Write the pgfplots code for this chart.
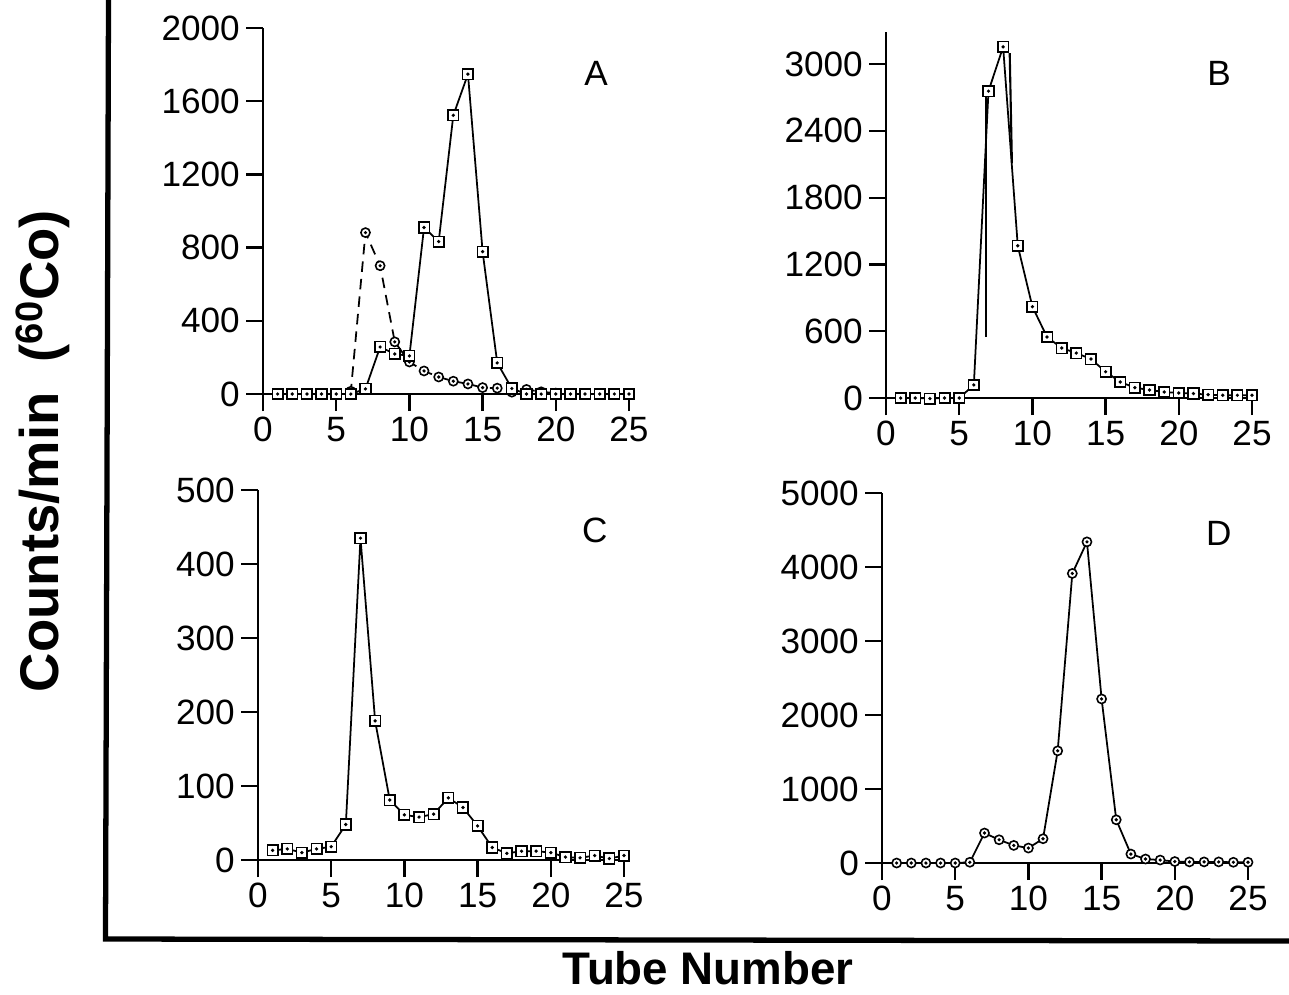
\documentclass[border=0pt]{standalone}
\usepackage{fontspec}
\setmainfont{Liberation Sans}
\usepackage{pgfplots}
\pgfplotsset{compat=1.18}

% open marks with a dot in the middle, as on the old plotter
\pgfdeclareplotmark{sqdot}{%
  \pgfpathrectangle{\pgfpoint{-\pgfplotmarksize}{-\pgfplotmarksize}}{\pgfpoint{2\pgfplotmarksize}{2\pgfplotmarksize}}%
  \pgfusepathqfillstroke
  \begin{pgfscope}\pgfsetfillcolor{black}%
  \pgfpathcircle{\pgfpointorigin}{0.35\pgfplotmarksize}\pgfusepathqfill\end{pgfscope}}
\pgfdeclareplotmark{cirdot}{%
  \pgfpathcircle{\pgfpointorigin}{\pgfplotmarksize}%
  \pgfusepathqfillstroke
  \begin{pgfscope}\pgfsetfillcolor{black}%
  \pgfpathcircle{\pgfpointorigin}{0.4\pgfplotmarksize}\pgfusepathqfill\end{pgfscope}}

\pgfplotsset{
  panel/.style={
    scale only axis,
    width=7.32cm,
    xmin=0, xmax=25, ymin=0,
    xtick={0,5,...,25},
    axis x line=bottom, axis y line=left,
    axis line style={-, line width=1.3pt},
    x axis line style={shorten <=-0.34cm},
    y axis line style={shorten <=-0.34cm},
    tick align=outside,
    major tick length=0.34cm,
    every tick/.style={black, line width=1.3pt},
    tick label style={font=\fontsize{20}{24}\selectfont},
    /pgf/number format/assume math mode=true,
    /pgf/number format/1000 sep={},
    scaled y ticks=false,
    clip=false,
  },
  sq/.style={black, line width=1pt, mark=sqdot, mark size=3pt, mark options={solid, fill=white, line width=0.9pt}},
  ci/.style={black, line width=1pt, mark=cirdot, mark size=2.6pt, mark options={solid, fill=white, line width=0.9pt}},
}

\begin{document}
\begin{tikzpicture}
\useasboundingbox (0,0) rectangle (25.78,-19.88);

% panel A
\begin{axis}[panel, at={(5.26cm,-7.88cm)}, anchor=south west, height=7.32cm,
  ymax=2000, ytick={0,400,...,2000}]
\addplot[ci, dashed, dash pattern=on 6pt off 4pt] coordinates {
  (1,0)(2,0)(3,0)(4,0)(5,0)(6,15)(7,882)(8,701)(9,285)(10,175)
  (11,126)(12,93)(13,70)(14,55)(15,35)(16,32)(17,10)(18,25)(19,12)(20,5)};
\addplot[sq] coordinates {
  (1,0)(2,0)(3,0)(4,0)(5,0)(6,0)(7,28)(8,257)(9,219)(10,208)
  (11,910)(12,833)(13,1523)(14,1748)(15,778)(16,170)(17,30)(18,0)
  (19,0)(20,0)(21,0)(22,0)(23,0)(24,0)(25,0)};
\node[font=\fontsize{20}{24}\selectfont] at (rel axis cs:0.91,0.875) {A};
\end{axis}

% panel B
\begin{axis}[panel, at={(17.72cm,-7.96cm)}, anchor=south west, height=7.32cm,
  ymax=3288, ytick={0,600,...,3000}]
\addplot[sq] coordinates {
  (1,0)(2,0)(3,-5)(4,0)(5,0)(6,117)(7,2757)(8,3155)(9,1368)(10,820)
  (11,548)(12,449)(13,404)(14,350)(15,236)(16,144)(17,93)(18,72)
  (19,54)(20,45)(21,40)(22,30)(23,25)(24,25)(25,25)};
\addplot[black, line width=1.2pt] coordinates {(6.8,548)(6.8,2703)};
\addplot[black, line width=1.2pt] coordinates {(8.45,3099)(8.6,2110)};
\node[font=\fontsize{20}{24}\selectfont] at (rel axis cs:0.91,0.888) {B};
\end{axis}

% panel C
\begin{axis}[panel, at={(5.16cm,-17.2cm)}, anchor=south west, height=7.4cm,
  ymax=500, ytick={0,100,...,500}]
\addplot[sq] coordinates {
  (1,13)(2,15)(3,10)(4,15)(5,18)(6,48)(7,435)(8,188)(9,81)(10,61)
  (11,58)(12,62)(13,84)(14,71)(15,46)(16,17)(17,9)(18,12)(19,12)
  (20,10)(21,4)(22,3)(23,6)(24,2)(25,6)};
\node[font=\fontsize{20}{24}\selectfont] at (rel axis cs:0.92,0.89) {C};
\end{axis}

% panel D
\begin{axis}[panel, at={(17.64cm,-17.26cm)}, anchor=south west, height=7.4cm,
  ymax=5000, ytick={0,1000,...,5000}]
\addplot[ci] coordinates {
  (1,0)(2,0)(3,0)(4,0)(5,0)(6,10)(7,405)(8,314)(9,238)(10,202)
  (11,328)(12,1516)(13,3913)(14,4340)(15,2217)(16,584)(17,121)(18,54)
  (19,40)(20,20)(21,15)(22,15)(23,15)(24,10)(25,10)};
\node[font=\fontsize{20}{24}\selectfont] at (rel axis cs:0.92,0.89) {D};
\end{axis}

% outer frame and shared labels
\draw[line width=3pt] (2.17,0) -- (2.11,-18.78) -- (25.78,-18.82);
\node[rotate=90, font=\fontsize{31}{36}\bfseries] at (0.86,-9.02) {Counts/min\ \ (\textsuperscript{60}Co)};
\node[font=\fontsize{26}{31}\bfseries] at (14.16,-19.36) {Tube Number};
\end{tikzpicture}
\end{document}
